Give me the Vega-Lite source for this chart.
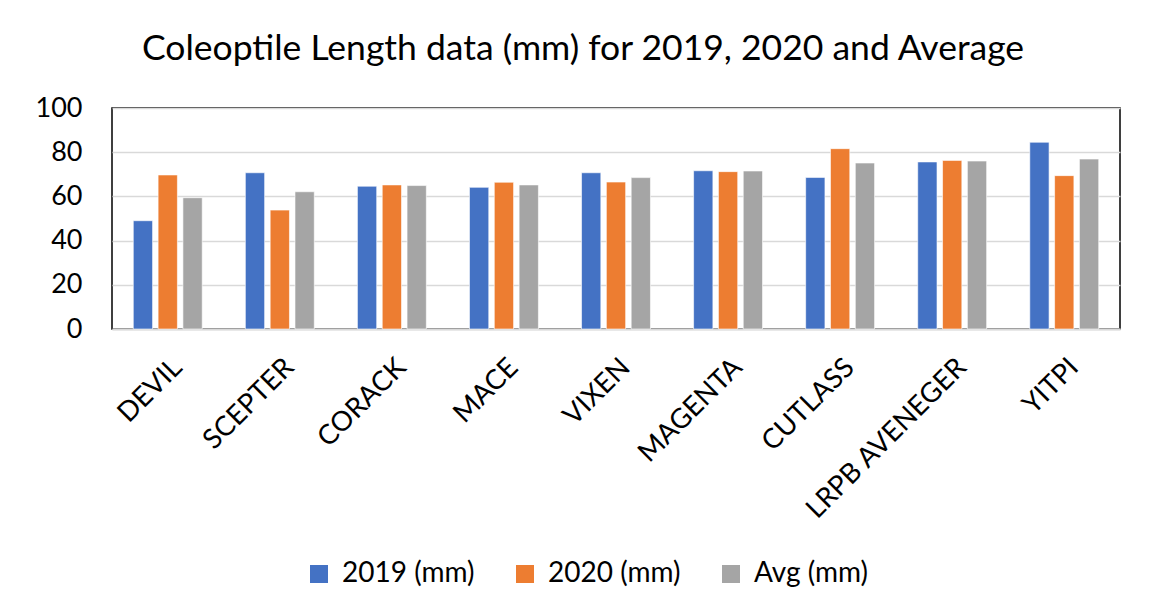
{
  "$schema": "https://vega.github.io/schema/vega-lite/v6.json",
  "autosize": {"type": "none"},
  "width": 1008,
  "height": 221,
  "padding": {"left": 112, "top": 108, "right": 34, "bottom": 285},
  "background": "white",
  "title": {
    "text": "Coleoptile Length data (mm) for 2019, 2020 and Average",
    "font": "Lato",
    "fontSize": 35.5,
    "fontWeight": "normal",
    "color": "#000000",
    "anchor": "middle",
    "dx": -33,
    "offset": 27
  },
  "data": {
    "values": [
      {"variety": "DEVIL", "series": "2019 (mm)", "value": 49.0},
      {"variety": "DEVIL", "series": "2020 (mm)", "value": 69.7},
      {"variety": "DEVIL", "series": "Avg (mm)", "value": 59.4},
      {"variety": "SCEPTER", "series": "2019 (mm)", "value": 70.7},
      {"variety": "SCEPTER", "series": "2020 (mm)", "value": 53.8},
      {"variety": "SCEPTER", "series": "Avg (mm)", "value": 62.1},
      {"variety": "CORACK", "series": "2019 (mm)", "value": 64.6},
      {"variety": "CORACK", "series": "2020 (mm)", "value": 65.2},
      {"variety": "CORACK", "series": "Avg (mm)", "value": 64.9},
      {"variety": "MACE", "series": "2019 (mm)", "value": 64.1},
      {"variety": "MACE", "series": "2020 (mm)", "value": 66.4},
      {"variety": "MACE", "series": "Avg (mm)", "value": 65.2},
      {"variety": "VIXEN", "series": "2019 (mm)", "value": 70.7},
      {"variety": "VIXEN", "series": "2020 (mm)", "value": 66.5},
      {"variety": "VIXEN", "series": "Avg (mm)", "value": 68.5},
      {"variety": "MAGENTA", "series": "2019 (mm)", "value": 71.6},
      {"variety": "MAGENTA", "series": "2020 (mm)", "value": 71.2},
      {"variety": "MAGENTA", "series": "Avg (mm)", "value": 71.5},
      {"variety": "CUTLASS", "series": "2019 (mm)", "value": 68.6},
      {"variety": "CUTLASS", "series": "2020 (mm)", "value": 81.6},
      {"variety": "CUTLASS", "series": "Avg (mm)", "value": 75.1},
      {"variety": "LRPB AVENEGER", "series": "2019 (mm)", "value": 75.6},
      {"variety": "LRPB AVENEGER", "series": "2020 (mm)", "value": 76.3},
      {"variety": "LRPB AVENEGER", "series": "Avg (mm)", "value": 76.0},
      {"variety": "YITPI", "series": "2019 (mm)", "value": 84.5},
      {"variety": "YITPI", "series": "2020 (mm)", "value": 69.4},
      {"variety": "YITPI", "series": "Avg (mm)", "value": 76.9}
    ]
  },
  "mark": {"type": "bar", "stroke": "white", "strokeWidth": 0.6},
  "encoding": {
    "x": {
      "field": "variety",
      "type": "nominal",
      "sort": null,
      "title": null,
      "scale": {"paddingInner": 0.385, "paddingOuter": 0.19},
      "axis": {
        "labelAngle": -45,
        "labelAlign": "right",
        "labelBaseline": "middle",
        "labelFont": "Lato",
        "labelFontSize": 27.5,
        "labelColor": "#000000",
        "labelPadding": 34,
        "labelOffset": 10,
        "labelLimit": 0,
        "ticks": false,
        "domainColor": "#d9d9d9",
        "domainWidth": 2,
        "grid": false
      }
    },
    "xOffset": {
      "field": "series",
      "type": "nominal",
      "scale": {"paddingInner": 0.223, "paddingOuter": 0}
    },
    "y": {
      "field": "value",
      "type": "quantitative",
      "title": null,
      "scale": {"domain": [0, 100], "nice": false},
      "axis": {
        "values": [0, 20, 40, 60, 80, 100],
        "labelFont": "Lato",
        "labelFontSize": 27,
        "labelColor": "#000000",
        "labelPadding": 30,
        "ticks": false,
        "domain": false,
        "gridColor": "#d9d9d9",
        "gridWidth": 1.5
      }
    },
    "color": {
      "field": "series",
      "type": "nominal",
      "title": null,
      "scale": {
        "domain": ["2019 (mm)", "2020 (mm)", "Avg (mm)"],
        "range": ["#4472C4", "#ED7D31", "#A5A5A5"]
      },
      "legend": {
        "orient": "none",
        "direction": "horizontal",
        "legendX": 193,
        "legendY": 452,
        "symbolType": "square",
        "symbolSize": 324,
        "symbolStrokeWidth": 0,
        "labelFont": "Lato",
        "labelFontSize": 28,
        "labelColor": "#000000",
        "labelOffset": 9,
        "columnPadding": 36
      }
    }
  },
  "config": {
    "view": {"stroke": "#000000", "strokeWidth": 1.5}
  }
}
